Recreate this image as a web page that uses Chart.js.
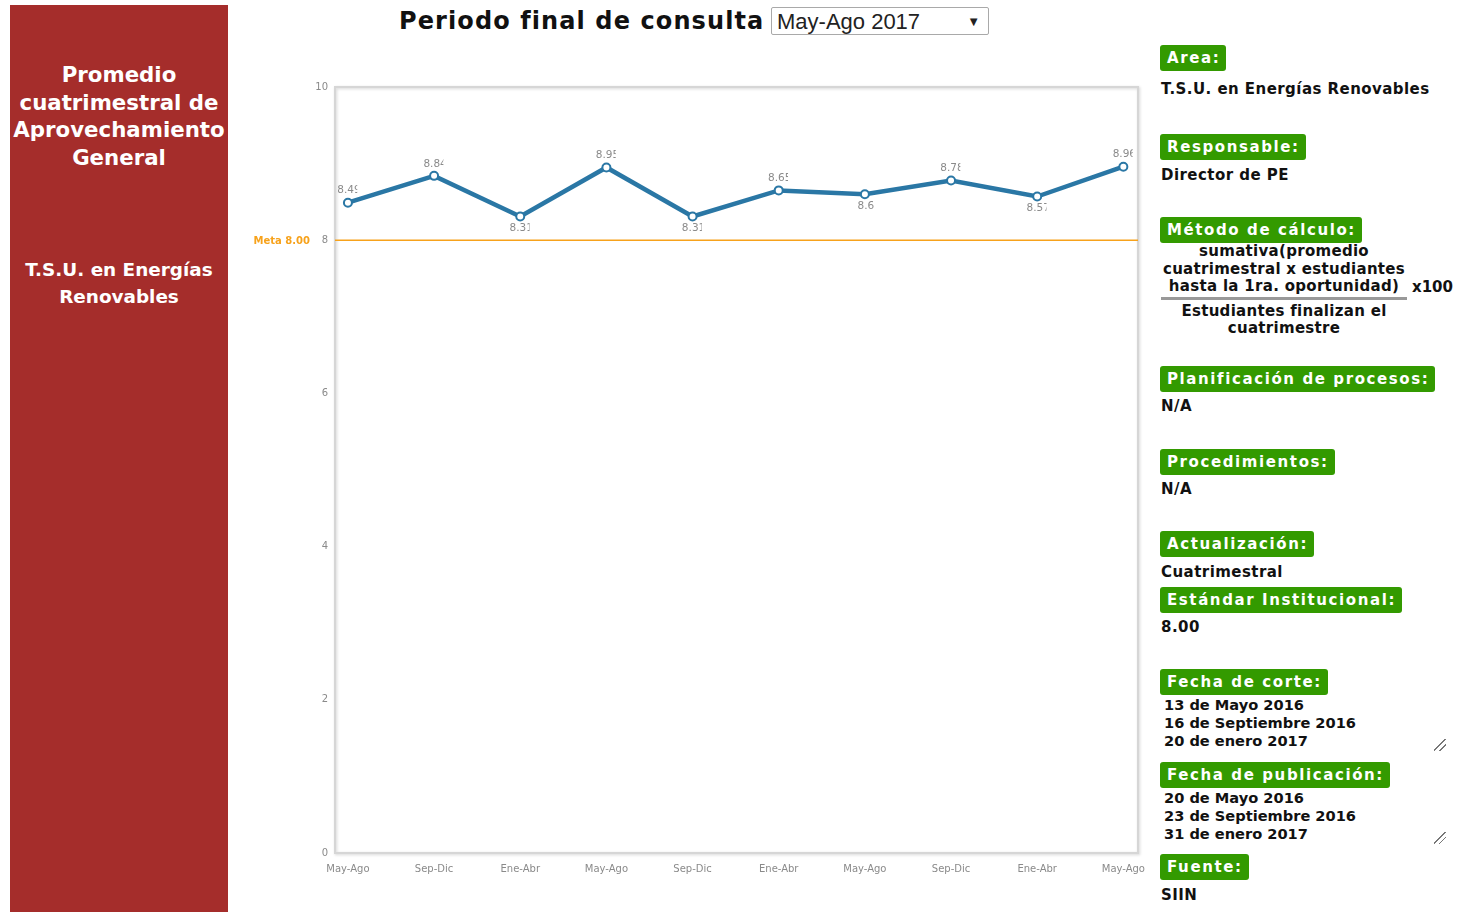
<!DOCTYPE html>
<html lang="es">
<head>
<meta charset="utf-8">
<title>Promedio cuatrimestral de Aprovechamiento General</title>
<script src="https://cdn.jsdelivr.net/npm/chart.js@4.4.1/dist/chart.umd.min.js"></script>
<style>
  html, body { margin: 0; padding: 0; background: #fff; }
  body { width: 1461px; height: 912px; position: relative; overflow: hidden; font-family: "DejaVu Sans", Verdana, sans-serif; }
  #side {
    position: absolute; left: 10px; top: 5px; width: 218px; height: 907px;
    background: #a52d2b; color: #fff; text-align: center; font-weight: bold;
  }
  #side .t1 { position: absolute; top: 56px; left: 0; width: 100%; font-size: 21.3px; line-height: 27.6px; }
  #side .t2 { position: absolute; top: 251px; left: 0; width: 100%; font-size: 18.4px; line-height: 27px; }
  #head { position: absolute; left: 399px; top: 7px; font-size: 24px; font-weight: bold; color: #111; letter-spacing: 1.1px; }
  #periodo {
    position: absolute; left: 771px; top: 7px; width: 218px; height: 28px; border: 1px solid #a9a9a9;
    font-family: "Liberation Sans Narrow", "Liberation Sans", Arial, sans-serif; font-size: 22px; line-height: 28px;
    color: #222; box-sizing: border-box; padding-left: 5px; border-radius: 2px;
  }
  #periodo span { position: absolute; right: 8px; top: 0; font-size: 13px; }
  #wrap { position: absolute; left: 240px; top: 70px; width: 910px; height: 815px; }
  .tag {
    position: absolute; left: 1160px; height: 26px; line-height: 26px; padding: 0 6px 0 7px;
    background: #339a00; color: #fff; font-weight: bold; font-size: 15px; letter-spacing: 1.6px; border-radius: 3px;
  }
  .txt { position: absolute; left: 1161px; font-weight: bold; font-size: 15px; color: #111; letter-spacing: 0.45px; line-height: 18px; }
  .dates { letter-spacing: 0; font-size: 14.6px; }
  .frac { position: absolute; left: 1161px; top: 243px; width: 246px; text-align: center; font-weight: bold; font-size: 15px; line-height: 17.5px; color: #111; letter-spacing: 0.3px; white-space: nowrap; }
  .frac .num { border-bottom: 3px solid #999; padding-bottom: 1px; margin-bottom: 3px; }
  .x100 { position: absolute; left: 1412px; top: 278px; font-weight: bold; font-size: 15px; color: #111; }
  .grip { position: absolute; width: 12px; height: 12px;
    background: linear-gradient(135deg, transparent 45%, #777 45%, #777 52%, transparent 52%, transparent 68%, #777 68%, #777 75%, transparent 75%); }
</style>
</head>
<body>
<div id="side">
  <div class="t1">Promedio<br>cuatrimestral de<br>Aprovechamiento<br>General</div>
  <div class="t2">T.S.U. en Energías<br>Renovables</div>
</div>

<div id="head">Periodo final de consulta</div>
<div id="periodo">May-Ago 2017<span>▼</span></div>

<div id="wrap"><canvas id="chart"></canvas></div>

<div class="tag" style="top:45px">Area:</div>
<div class="txt" style="top:80px">T.S.U. en Energías Renovables</div>

<div class="tag" style="top:134px">Responsable:</div>
<div class="txt" style="top:166px">Director de PE</div>

<div class="tag" style="top:217px">Método de cálculo:</div>
<div class="frac">
  <div class="num">sumativa(promedio<br>cuatrimestral x estudiantes<br>hasta la 1ra. oportunidad)</div>
  <div>Estudiantes finalizan el<br>cuatrimestre</div>
</div>
<div class="x100">x100</div>

<div class="tag" style="top:366px">Planificación de procesos:</div>
<div class="txt" style="top:397px">N/A</div>

<div class="tag" style="top:449px">Procedimientos:</div>
<div class="txt" style="top:480px">N/A</div>

<div class="tag" style="top:531px">Actualización:</div>
<div class="txt" style="top:563px">Cuatrimestral</div>

<div class="tag" style="top:587px">Estándar Institucional:</div>
<div class="txt" style="top:618px">8.00</div>

<div class="tag" style="top:669px">Fecha de corte:</div>
<div class="txt dates" style="top:696px; left:1164px">13 de Mayo 2016<br>16 de Septiembre 2016<br>20 de enero 2017</div>
<div class="grip" style="left:1434px; top:739px"></div>

<div class="tag" style="top:762px">Fecha de publicación:</div>
<div class="txt dates" style="top:789px; left:1164px">20 de Mayo 2016<br>23 de Septiembre 2016<br>31 de enero 2017</div>
<div class="grip" style="left:1434px; top:832px"></div>

<div class="tag" style="top:854px">Fuente:</div>
<div class="txt" style="top:886px">SIIN</div>

<script>
const categories = ['May-Ago', 'Sep-Dic', 'Ene-Abr', 'May-Ago', 'Sep-Dic', 'Ene-Abr', 'May-Ago', 'Sep-Dic', 'Ene-Abr', 'May-Ago'];
const promedio = [8.49, 8.84, 8.31, 8.95, 8.31, 8.65, 8.6, 8.78, 8.57, 8.96];
const yTicks = [0, 2, 4, 6, 8, 10];
const meta = 8;
const metaLabel = 'Meta 8.00';

// plot frame with a soft shadow, drawn before the line
const framePlugin = {
    id: 'frame',
    beforeDraw(chart) {
        const { ctx, chartArea: a } = chart;
        ctx.save();
        ctx.shadowColor = 'rgba(0,0,0,0.18)';
        ctx.shadowBlur = 3;
        ctx.shadowOffsetX = 1;
        ctx.shadowOffsetY = 1;
        ctx.strokeStyle = '#d6d6d6';
        ctx.lineWidth = 2;
        ctx.strokeRect(a.left, a.top, a.right - a.left, a.bottom - a.top);
        ctx.restore();
    }
};

// orange goal line + label left of the axis
const metaPlugin = {
    id: 'meta',
    beforeDatasetsDraw(chart) {
        const { ctx, chartArea: a, scales } = chart;
        const y = scales.y.getPixelForValue(meta);
        ctx.save();
        ctx.strokeStyle = '#f7a21b';
        ctx.lineWidth = 1.5;
        ctx.beginPath();
        ctx.moveTo(a.left, y);
        ctx.lineTo(a.right, y);
        ctx.stroke();
        ctx.fillStyle = '#f7a21b';
        ctx.font = 'bold 10px "DejaVu Sans", Verdana, sans-serif';
        ctx.textAlign = 'right';
        ctx.textBaseline = 'middle';
        ctx.fillText(metaLabel, a.left - 25, y + 1);
        ctx.restore();
    }
};

// value labels, above or below each point, clipped like the original
const valuePlugin = {
    id: 'values',
    afterDatasetsDraw(chart) {
        const { ctx } = chart;
        const meta0 = chart.getDatasetMeta(0);
        ctx.save();
        ctx.font = '10.5px "DejaVu Sans", Verdana, sans-serif';
        ctx.fillStyle = '#8a8a8a';
        ctx.textBaseline = 'middle';
        ctx.textAlign = 'left';
        meta0.data.forEach((pt, i) => {
            const v = promedio[i];
            const below = i > 0 && v < promedio[i - 1];
            const txt = String(v);
            const w = ctx.measureText(txt).width;
            const x0 = pt.x - Math.min(w, 24) / 2 + 1;
            const y = below ? pt.y + 12 : pt.y - 12;
            ctx.save();
            ctx.beginPath();
            ctx.rect(x0 - 1, y - 8, 21, 16);
            ctx.clip();
            ctx.fillText(txt, x0, y);
            ctx.restore();
        });
        ctx.restore();
    }
};

new Chart(document.getElementById('chart'), {
    type: 'line',
    data: {
        datasets: [{
            label: 'Promedio',
            data: promedio.map((v, i) => ({ x: i, y: v })),
            borderColor: '#2a77a5',
            borderWidth: 4.5,
            pointRadius: 4,
            pointBorderWidth: 2,
            pointBackgroundColor: '#fff',
            pointBorderColor: '#2a77a5',
            tension: 0,
            fill: false
        }]
    },
    options: {
        responsive: true,
        maintainAspectRatio: false,
        animation: false,
        layout: { padding: { left: 0, top: 17, right: 12, bottom: 0 } },
        plugins: { legend: { display: false }, tooltip: { enabled: false } },
        scales: {
            x: {
                type: 'linear',
                min: -0.15,
                max: 9.17,
                afterBuildTicks: s => { s.ticks = categories.map((c, i) => ({ value: i })); },
                afterFit: s => { s.height = 32; s.paddingLeft = 0; s.paddingRight = 0; },
                grid: { display: false, drawTicks: false },
                border: { display: false },
                ticks: {
                    callback: v => categories[v],
                    color: '#8a8a8a',
                    font: { family: '"DejaVu Sans", Verdana, sans-serif', size: 10 },
                    padding: 10,
                    maxRotation: 0,
                    autoSkip: false
                }
            },
            y: {
                min: 0,
                max: 10,
                afterBuildTicks: s => { s.ticks = yTicks.map(v => ({ value: v })); },
                afterFit: s => { s.width = 95; },
                grid: { display: false, drawTicks: false },
                border: { display: false },
                ticks: {
                    color: '#8a8a8a',
                    font: { family: '"DejaVu Sans", Verdana, sans-serif', size: 10 },
                    padding: 7
                }
            }
        }
    },
    plugins: [framePlugin, metaPlugin, valuePlugin]
});
</script>
</body>
</html>
